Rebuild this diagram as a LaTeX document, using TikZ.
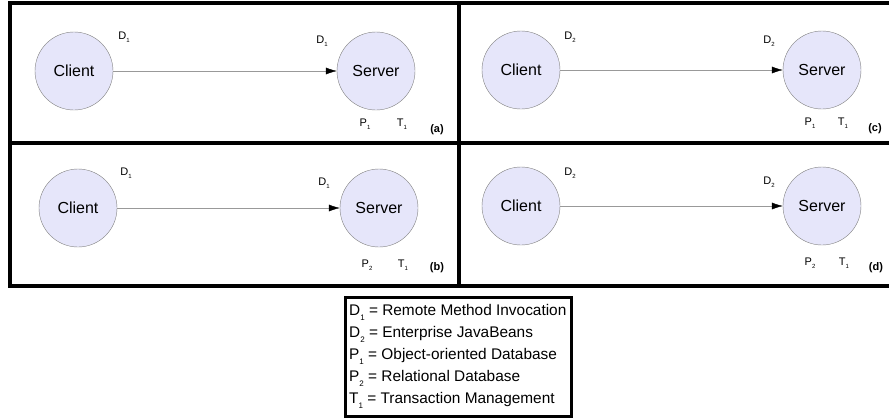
\documentclass[tikz,border=0pt]{standalone}
\usepackage{fontspec}
\setmainfont{Liberation Sans}
\usetikzlibrary{arrows.meta}
\definecolor{nodefill}{RGB}{230,230,250}
\newcommand{\idx}[2]{#1\raisebox{-0.5ex}{\fontsize{6}{6}\selectfont #2}}
\newcommand{\keyidx}[2]{#1\raisebox{-0.6ex}{\fontsize{8}{8}\selectfont #2}}

\begin{document}
\begin{tikzpicture}[x=1pt, y=-1pt,
    comp/.style={circle, draw=gray, fill=nodefill, minimum size=78pt, inner sep=0pt,
      font=\fontsize{16}{18}\selectfont},
    tag/.style={inner sep=0pt, font=\fontsize{11}{12}\selectfont},
    panel/.style={inner sep=0pt, font=\fontsize{11}{12}\selectfont\bfseries},
    conn/.style={draw=gray!80, -{Latex[length=11pt, width=7pt, black]}},
    frame/.style={line width=3.5pt},
    keyline/.style={anchor=west, inner sep=0pt, font=\fontsize{15.4}{17}\selectfont}]
  \useasboundingbox (0,0) rectangle (889,418);
  % frames
  \draw[frame] (10,3) rectangle (895,286);
  \draw[frame] (459,3) -- (459,286);
  \draw[frame] (10,143) -- (895,143);

  % (a)
  \node[comp] (ca) at (74,71) {Client};
  \node[comp] (sa) at (376,71) {Server};
  \draw[conn] (ca) -- (sa);
  \node[tag] (dca) at (124,37) {\idx{D}{1}};
  \node[tag] (dsa) at (322,41) {\idx{D}{1}};
  \node[tag] (pa) at (365,124) {\idx{P}{1}};
  \node[tag] (ta) at (402,124) {\idx{T}{1}};
  \node[panel] (la) at (437,130) {(a)};

  % (b)
  \node[comp] (cb) at (78,208) {Client};
  \node[comp] (sb) at (379,208) {Server};
  \draw[conn] (cb) -- (sb);
  \node[tag] (dcb) at (126,173) {\idx{D}{1}};
  \node[tag] (dsb) at (324,183) {\idx{D}{1}};
  \node[tag] (pb) at (367,265) {\idx{P}{2}};
  \node[tag] (tb) at (403,265) {\idx{T}{1}};
  \node[panel] (lb) at (437,268) {(b)};

  % (c)
  \node[comp] (cc) at (521,70) {Client};
  \node[comp] (sc) at (822,70) {Server};
  \draw[conn] (cc) -- (sc);
  \node[tag] (dcc) at (570,37) {\idx{D}{2}};
  \node[tag] (dsc) at (769,41) {\idx{D}{2}};
  \node[tag] (pc) at (810,123) {\idx{P}{1}};
  \node[tag] (tc) at (843,123) {\idx{T}{1}};
  \node[panel] (lc) at (875,129) {(c)};

  % (d)
  \node[comp] (cd) at (521,206) {Client};
  \node[comp] (sd) at (822,206) {Server};
  \draw[conn] (cd) -- (sd);
  \node[tag] (dcd) at (570,173) {\idx{D}{2}};
  \node[tag] (dsd) at (769,182) {\idx{D}{2}};
  \node[tag] (pd) at (810,263) {\idx{P}{2}};
  \node[tag] (td) at (844,263) {\idx{T}{1}};
  \node[panel] (ld) at (876,268) {(d)};

  % key
  \draw[line width=3pt] (345,297) rectangle (571,416);
  \node[keyline] (k1) at (349,312) {\keyidx{D}{1} = Remote Method Invocation};
  \node[keyline] (k2) at (349,334) {\keyidx{D}{2} = Enterprise JavaBeans};
  \node[keyline] (k3) at (349,356) {\keyidx{P}{1} = Object-oriented Database};
  \node[keyline] (k4) at (349,378) {\keyidx{P}{2} = Relational Database};
  \node[keyline] (k5) at (349,400) {\keyidx{T}{1} = Transaction Management};
\end{tikzpicture}
\end{document}
